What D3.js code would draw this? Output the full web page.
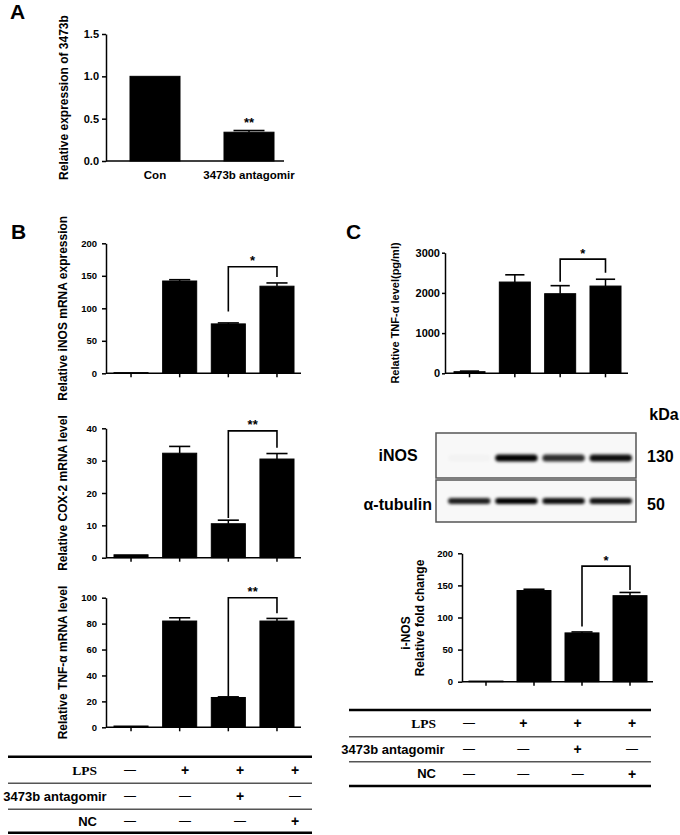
<!DOCTYPE html>
<html><head><meta charset="utf-8">
<script src="https://cdn.jsdelivr.net/npm/d3@7"></script>
<style>
body{margin:0;background:#fff}
svg{display:block}
text{font-family:"Liberation Sans",Arial,sans-serif;fill:#000}
</style>
</head><body>
<svg id="fig" width="680" height="835"></svg>
<script>
// ---------------- DATA ----------------
const catsA = ["Con", "3473b antagomir"];
const valsA = [1.0, 0.34];
const errsA = [0, 0.02];
const ticksA = [0, 0.5, 1.0, 1.5];
const starsA = ["", "**"];

const groups = ["ctrl", "LPS", "LPS+antagomir", "LPS+NC"];

const inosMRNA = [1, 142, 76, 134];
const inosMRNAErr = [0, 2, 1.5, 5];
const ticksInosMRNA = [0, 50, 100, 150, 200];
const sigInosMRNA = [164, 95, 148];   // bracket top, left leg end, right leg end

const cox2 = [0.9, 32.3, 10.5, 30.5];
const cox2Err = [0, 2.1, 1.1, 1.7];
const ticksCox2 = [0, 10, 20, 30, 40];
const sigCox2 = [39.2, 12.3, 34];

const tnfMRNA = [1, 82, 23, 82];
const tnfMRNAErr = [0, 2.5, 0.5, 2];
const ticksTnfMRNA = [0, 20, 40, 60, 80, 100];
const sigTnfMRNA = [100, 24, 88];

const tnfProt = [40, 2270, 1980, 2170];
const tnfProtErr = [15, 180, 200, 170];
const ticksTnfProt = [0, 1000, 2000, 3000];
const sigTnfProt = [2840, 2280, 2500];

const inosFold = [1, 142, 76, 134];
const inosFoldErr = [0, 2, 1.5, 5];
const ticksInosFold = [0, 50, 100, 150, 200];
const sigInosFold = [180, 86, 143];

const bandINOS = [0.02, 1.0, 0.82, 0.95];
const bandTub = [0.88, 1.0, 0.95, 0.93];
const blotLabels = ["iNOS", "α-tubulin"];
const blotKDa = ["130", "50"];

const treatRows = ["LPS", "3473b antagomir", "NC"];
const treatLPS = ["-", "+", "+", "+"];
const treatAnt = ["-", "-", "+", "-"];
const treatNC = ["-", "-", "-", "+"];
const treatments = [treatLPS, treatAnt, treatNC];

// ---------------- DRAWING ----------------
const svg = d3.select("#fig");
const defs = svg.append("defs");
defs.append("filter").attr("id", "blur").attr("x", "-20%").attr("y", "-100%").attr("width", "140%").attr("height", "300%")
  .append("feGaussianBlur").attr("stdDeviation", 1.5);

function barChart(o) {
  const g = svg.append("g");
  const n = o.vals.length;
  const y = d3.scaleLinear().domain([0, o.max]).range([o.yBot, o.yTop]);
  const x = d3.scaleBand().domain(d3.range(n)).range(o.barRange).paddingInner(o.pad).paddingOuter(0);
  const bw = x.bandwidth();

  // y axis
  const ya = g.append("g").attr("transform", `translate(${o.axisX},0)`)
    .call(d3.axisLeft(y).tickValues(o.ticks).tickSize(o.tickSize).tickSizeOuter(0)
      .tickPadding(o.tickPad).tickFormat(d3.format(o.fmt)));
  ya.select(".domain").attr("stroke", "#000").attr("stroke-width", 1.5);
  ya.selectAll(".tick line").attr("stroke", "#000").attr("stroke-width", 1.5);
  ya.selectAll(".tick text").attr("font-size", o.tickFont).attr("font-weight", "bold")
    .attr("font-family", "'Liberation Sans',Arial,sans-serif").attr("fill", "#000");

  // x axis line
  g.append("line").attr("x1", o.axisX).attr("x2", o.axisRight)
    .attr("y1", y(0)).attr("y2", y(0)).attr("stroke", "#000").attr("stroke-width", 1.5);
  if (o.xTicks) {
    g.selectAll(".xt").data(d3.range(n)).join("line")
      .attr("x1", i => x(i) + bw / 2).attr("x2", i => x(i) + bw / 2)
      .attr("y1", y(0)).attr("y2", y(0) + 4).attr("stroke", "#000").attr("stroke-width", 1.5);
  }

  // bars
  g.selectAll(".bar").data(o.vals).join("rect")
    .attr("x", (d, i) => x(i)).attr("width", bw)
    .attr("y", d => y(d)).attr("height", d => y(0) - y(d)).attr("fill", "#000")
    .attr("stroke", "#000").attr("stroke-width", 1);

  // error bars (upper only)
  const cap = bw * 0.62;
  o.errs.forEach((e, i) => {
    if (!e) return;
    const cx = x(i) + bw / 2;
    g.append("line").attr("x1", cx).attr("x2", cx).attr("y1", y(o.vals[i])).attr("y2", y(o.vals[i] + e))
      .attr("stroke", "#000").attr("stroke-width", 1.5);
    g.append("line").attr("x1", cx - cap / 2).attr("x2", cx + cap / 2)
      .attr("y1", y(o.vals[i] + e)).attr("y2", y(o.vals[i] + e)).attr("stroke", "#000").attr("stroke-width", 1.6);
  });

  // significance bracket between bars 3 and 4
  if (o.sig) {
    const [top, l, r] = o.sig;
    const x1 = x(2) + bw / 2, x2 = x(3) + bw / 2;
    g.append("path").attr("d", `M${x1},${y(l)}V${y(top)}H${x2}V${y(r)}`)
      .attr("fill", "none").attr("stroke", "#000").attr("stroke-width", 1.6);
    g.append("text").attr("x", (x1 + x2) / 2).attr("y", y(top) - 1.5)
      .attr("text-anchor", "middle").attr("font-size", 13).attr("font-weight", "bold").text(o.star);
  }

  // stars above bars
  if (o.barStars) {
    o.barStars.forEach((s, i) => {
      if (!s) return;
      g.append("text").attr("x", x(i) + bw / 2).attr("y", y(o.vals[i] + o.errs[i]) - 4)
        .attr("text-anchor", "middle").attr("font-size", 13).attr("font-weight", "bold").text(s);
    });
  }

  // category labels
  if (o.cats) {
    g.selectAll(".cat").data(o.cats).join("text")
      .attr("x", (d, i) => x(i) + bw / 2).attr("y", y(0) + 18)
      .attr("text-anchor", "middle").attr("font-size", 11.5).attr("font-weight", "bold").text(d => d);
  }

  // y label(s)
  o.ylabels.forEach(lb => {
    g.append("text").attr("transform", `translate(${lb.x},${lb.y ?? (o.yTop + o.yBot) / 2}) rotate(-90)`)
      .attr("text-anchor", "middle").attr("dy", "0.35em")
      .attr("font-size", lb.size).attr("font-weight", "bold").text(lb.t);
  });
}

function table(o) {
  const g = svg.append("g");
  o.lineYs.forEach((ly, i) => {
    const thick = i === 0 || i === o.lineYs.length - 1;
    g.append("line").attr("x1", o.x0).attr("x2", o.x1).attr("y1", ly).attr("y2", ly)
      .attr("stroke", thick ? "#000" : "#555").attr("stroke-width", thick ? 2.6 : 1.5);
  });
  const col = d3.scalePoint().domain(groups).range(o.colRange);
  treatRows.forEach((name, r) => {
    const ry = (o.lineYs[r] + o.lineYs[r + 1]) / 2;
    const lt = g.append("text").attr("y", ry).attr("dy", "0.35em").attr("font-weight", "bold").text(name);
    if (name === "LPS") {
      lt.attr("x", o.labelRight).attr("text-anchor", "end").attr("font-size", 13.5)
        .style("font-family", "'Liberation Serif','Times New Roman',serif");
    } else if (name === "NC") {
      lt.attr("x", o.labelRight).attr("text-anchor", "end").attr("font-size", 13);
    } else {
      lt.attr("x", o.antX).attr("text-anchor", "middle").attr("font-size", 13);
    }
    treatments[r].forEach((s, c) => {
      g.append("text").attr("x", col(groups[c])).attr("y", ry).attr("dy", s === "+" ? "0.36em" : "0.33em")
        .attr("text-anchor", "middle")
        .attr("font-size", s === "+" ? 14 : 12).attr("font-weight", s === "+" ? "bold" : "normal")
        .text(s === "+" ? "+" : "—");
    });
  });
}

// Panel letters
[["A", 10, 19], ["B", 11, 239], ["C", 346, 239]].forEach(([t, lx, ly]) => {
  svg.append("text").attr("x", lx).attr("y", ly).attr("font-size", 21).attr("font-weight", "bold").text(t);
});

// Panel A
barChart({vals: valsA, errs: errsA, ticks: ticksA, max: 1.5, yTop: 34, yBot: 161,
  axisX: 106, axisRight: 284, barRange: [130, 274], pad: 0.468, xTicks: false,
  tickFont: 11, tickSize: 4, tickPad: 3, fmt: ".1f", barStars: starsA, cats: catsA,
  ylabels: [{t: "Relative expression of 3473b", x: 64, size: 12}]});

// Panel B
const bCommon = {axisX: 106, axisRight: 301, barRange: [114, 294], pad: 0.30, xTicks: true,
  tickFont: 9.5, tickSize: 4, tickPad: 5, fmt: "d"};
barChart({...bCommon, vals: inosMRNA, errs: inosMRNAErr, ticks: ticksInosMRNA, max: 200,
  yTop: 243.3, yBot: 373.3, sig: sigInosMRNA, star: "*",
  ylabels: [{t: "Relative iNOS mRNA expression", x: 63, size: 12}]});
barChart({...bCommon, vals: cox2, errs: cox2Err, ticks: ticksCox2, max: 40,
  yTop: 428.3, yBot: 557.7, sig: sigCox2, star: "**",
  ylabels: [{t: "Relative COX-2 mRNA level", x: 63, size: 12}]});
barChart({...bCommon, vals: tnfMRNA, errs: tnfMRNAErr, ticks: ticksTnfMRNA, max: 100,
  yTop: 597.7, yBot: 727.3, sig: sigTnfMRNA, star: "**",
  ylabels: [{t: "Relative TNF-α mRNA level", x: 63, size: 12}]});

table({x0: 8, x1: 312, lineYs: [756.7, 783.3, 809.3, 832.7], colRange: [130, 295],
  labelRight: 97, antX: 55});

// Panel C
barChart({vals: tnfProt, errs: tnfProtErr, ticks: ticksTnfProt, max: 3000, yTop: 252.7, yBot: 373.3,
  axisX: 445, axisRight: 628, barRange: [454, 621], pad: 0.316, xTicks: true,
  tickFont: 11, tickSize: 3, tickPad: 2, fmt: "d", sig: sigTnfProt, star: "*",
  ylabels: [{t: "Relative TNF-α level(pg/ml)", x: 395, size: 11}]});

// Western blot
(function () {
  const g = svg.append("g");
  const boxes = [{y0: 433, y1: 478, yc: 458, h: 7, vals: bandINOS},
                 {y0: 480, y1: 522, yc: 501, h: 6, vals: bandTub}];
  const lane = d3.scaleBand().domain(groups).range([448, 632]).paddingInner(0.1);
  boxes.forEach((b, k) => {
    g.append("rect").attr("x", 436).attr("y", b.y0).attr("width", 200).attr("height", b.y1 - b.y0)
      .attr("fill", "#f8f8f8").attr("stroke", "#555").attr("stroke-width", 1.5);
    g.selectAll(null).data(b.vals).join("rect")
      .attr("x", (d, i) => lane(groups[i])).attr("width", lane.bandwidth())
      .attr("y", b.yc - b.h / 2).attr("height", b.h).attr("rx", b.h / 2)
      .attr("fill", "#000").attr("opacity", d => d).attr("filter", "url(#blur)");
    g.append("text").attr("x", k === 0 ? 398 : 432).attr("y", k === 0 ? 461 : 510)
      .attr("text-anchor", k === 0 ? "middle" : "end").attr("font-size", 16).attr("font-weight", "bold")
      .text(blotLabels[k]);
    g.append("text").attr("x", 647).attr("y", k === 0 ? 462 : 510)
      .attr("font-size", 16).attr("font-weight", "bold").text(blotKDa[k]);
  });
  g.append("text").attr("x", 664).attr("y", 420).attr("text-anchor", "middle")
    .attr("font-size", 16).attr("font-weight", "bold").text("kDa");
})();

barChart({vals: inosFold, errs: inosFoldErr, ticks: ticksInosFold, max: 200, yTop: 553.3, yBot: 681.7,
  axisX: 462, axisRight: 653, barRange: [469, 647], pad: 0.292, xTicks: true,
  tickFont: 9.5, tickSize: 4, tickPad: 5, fmt: "d", sig: sigInosFold, star: "*",
  ylabels: [{t: "i-NOS", x: 406, y: 633, size: 12}, {t: "Relative fold change", x: 420, y: 618, size: 12}]});

table({x0: 349, x1: 651, lineYs: [710, 736.7, 761.7, 786], colRange: [469, 632],
  labelRight: 436, antX: 393});
</script>
</body></html>
